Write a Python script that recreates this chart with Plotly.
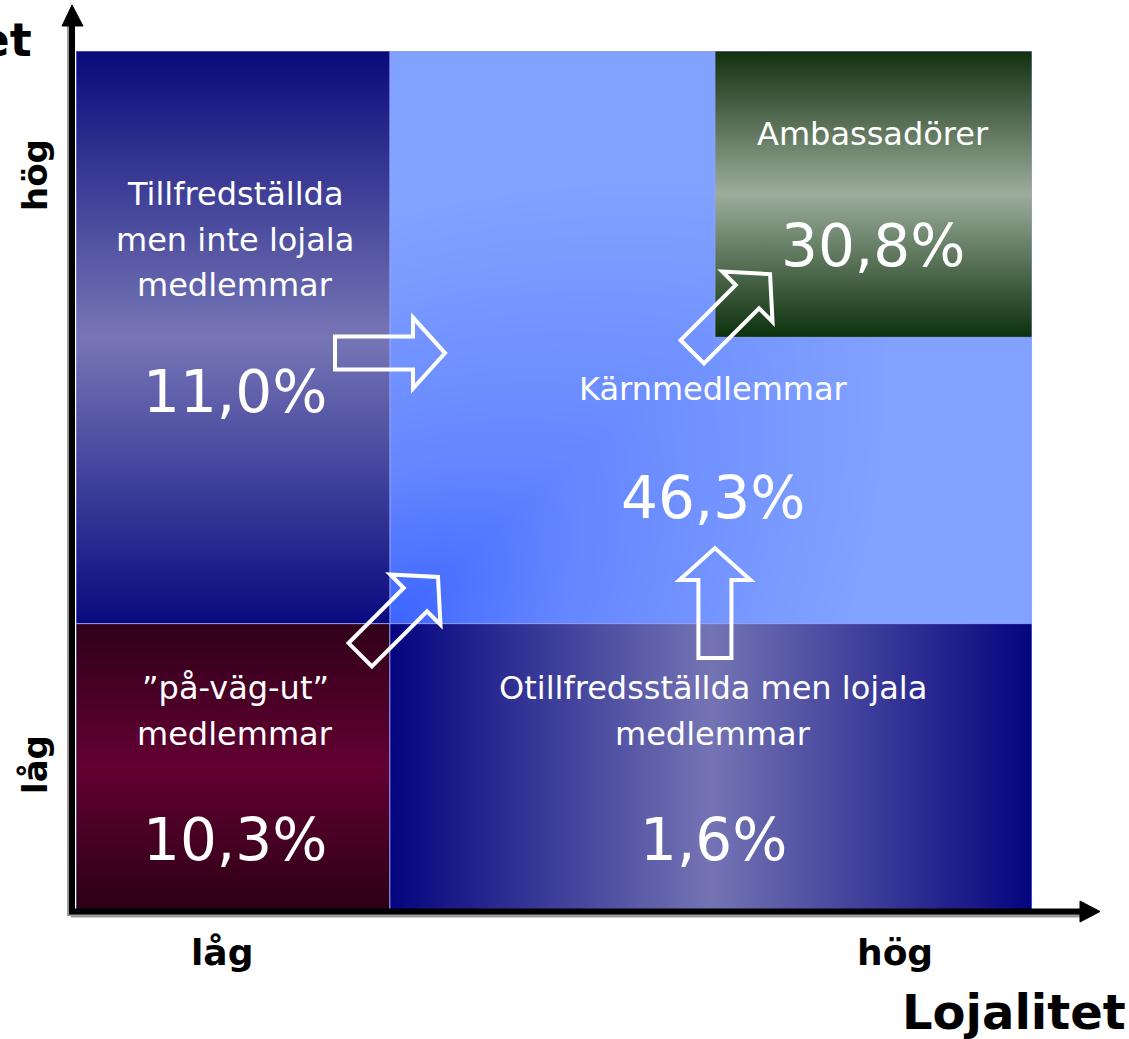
import numpy as np
import plotly.graph_objects as go

# ---------------- data ----------------
segments = [
    "Tillfredställda men inte lojala medlemmar",
    "Ambassadörer",
    "Kärnmedlemmar",
    "”på-väg-ut” medlemmar",
    "Otillfredsställda men lojala medlemmar",
]
shares = [11.0, 30.8, 46.3, 10.3, 1.6]
label_lines = [
    ["Tillfredställda", "men inte lojala", "medlemmar"],
    ["Ambassadörer"],
    ["Kärnmedlemmar"],
    ["”på-väg-ut”", "medlemmar"],
    ["Otillfredsställda men lojala", "medlemmar"],
]
x_title = "Lojalitet"
y_title = "Nöjdhet"
level_ticks = ["låg", "hög"]

# ---------------- layout helpers ----------------
W, H = 1129, 1039
L_PX, R_PX, T_PX, B_PX = 76, 1032, 51, 910
SX = (R_PX - L_PX) / 3.0
SY = (B_PX - T_PX) / 3.0

def px_gx(px):
    return (px - L_PX) / SX

def px_gy(py):
    return (B_PX - py) / SY

def gx_px(u):
    return L_PX + u * SX

def gy_px(v):
    return B_PX - v * SY

def pap_x(px):
    return (px - L_PX) / (R_PX - L_PX)

def pap_y(py):
    return (B_PX - py) / (B_PX - T_PX)

# region splits (grid units)
XS = [0, 0.985, 2.005, 3]
YS = [0, 1.0, 2.0, 3]

# text placement (grid units)
label_x = [0.5, 2.5, 2.0, 0.5, 2.0]
label_y = [2.50, 2.71, 1.82, 0.775, 0.775]
pct_y = [1.81, 2.32, 1.44, 0.245, 0.245]
LINE_STEP = 0.159

EDGE = "rgba(150,165,255,0.85)"

fig = go.Figure()

def rect(x0, x1, y0, y1, orient, stops):
    start, stop = (y0, y1) if orient == "vertical" else (x0, x1)
    fig.add_trace(go.Scatter(
        x=[x0, x1, x1, x0, x0], y=[y0, y0, y1, y1, y0],
        mode="lines", fill="toself",
        line=dict(width=1, color=EDGE),
        fillgradient=dict(type=orient, colorscale=stops, start=start, stop=stop),
        hoverinfo="skip", showlegend=False,
    ))

# central (core) region: gradient darkest at the lower-left corner
n = 120
cx = XS[1] + (np.arange(n) + 0.5) * (XS[3] - XS[1]) / n
cy = YS[1] + (np.arange(n) + 0.5) * (YS[3] - YS[1]) / n
U, V = np.meshgrid((cx - XS[1]) / (XS[3] - XS[1]), (cy - YS[1]) / (YS[3] - YS[1]))
T = np.clip(0.95 * np.sqrt(U ** 2 + V ** 2) + 0.45 * np.abs(U - V), 0, 1) ** 0.8
fig.add_trace(go.Heatmap(
    x=cx, y=cy, z=T, zmin=0, zmax=1, zsmooth="best", showscale=False,
    colorscale=[[0, "#3a62ff"], [0.45, "#6486ff"], [1, "#82a2ff"]],
    hoverinfo="skip",
))
fig.add_trace(go.Scatter(x=[XS[1], XS[3], XS[3], XS[1], XS[1]], y=[YS[1], YS[1], YS[3], YS[3], YS[1]],
                         mode="lines", line=dict(width=1, color=EDGE), hoverinfo="skip", showlegend=False))

# other regions
rect(XS[0], XS[1], YS[1], YS[3], "vertical", [[0, "#0a0a80"], [0.5, "#7676b6"], [1, "#0a0a7a"]])
rect(XS[0], XS[1], YS[0], YS[1], "vertical", [[0, "#2c0014"], [0.5, "#620032"], [1, "#300018"]])
rect(XS[1], XS[3], YS[0], YS[1], "horizontal", [[0, "#04047f"], [0.5, "#7474b4"], [1, "#04047f"]])
rect(XS[2], XS[3], YS[2], YS[3], "vertical", [[0, "#0c300c"], [0.5, "#9cad9b"], [1, "#12300f"]])

# ---------------- block arrows ----------------
# (tip_x, tip_y) in grid units, direction in degrees
arrow_tips = [(1.158, 1.945, 0), (1.136, 1.163, 45), (2.005, 1.264, 90), (2.178, 2.221, 45)]
AL, WB, WH, LH = 110, 16.5, 35.5, 32

local = [(-AL, -WB), (-LH, -WB), (-LH, -WH), (0, 0), (-LH, WH), (-LH, WB), (-AL, WB)]
for tu, tv, ang in arrow_tips:
    a = np.deg2rad(ang)
    tx, ty = gx_px(tu), gy_px(tv)
    pts = []
    for lx, ly in local:
        px = tx + lx * np.cos(a) - ly * np.sin(a)
        py = ty - (lx * np.sin(a) + ly * np.cos(a))
        pts.append((px_gx(px), px_gy(py)))
    path = "M " + " L ".join(f"{x:.4f},{y:.4f}" for x, y in pts) + " Z"
    fig.add_shape(type="path", path=path, xref="x", yref="y",
                  line=dict(color="white", width=4), fillcolor="rgba(0,0,0,0)", layer="above")

# ---------------- axes with arrow heads ----------------
AX_X, AX_Y = 72, 911.5
# soft shadow
fig.add_shape(type="line", xref="paper", yref="paper",
              x0=pap_x(AX_X - 2), x1=pap_x(AX_X - 2), y0=pap_y(916), y1=pap_y(26),
              line=dict(color="#9a9a9a", width=6), layer="above")
fig.add_shape(type="line", xref="paper", yref="paper",
              x0=pap_x(71), x1=pap_x(1080), y0=pap_y(AX_Y + 3), y1=pap_y(AX_Y + 3),
              line=dict(color="#9a9a9a", width=6), layer="above")
fig.add_shape(type="line", xref="paper", yref="paper",
              x0=pap_x(AX_X), x1=pap_x(AX_X), y0=pap_y(914), y1=pap_y(24),
              line=dict(color="black", width=6), layer="above")
fig.add_shape(type="path", xref="paper", yref="paper",
              path=f"M {pap_x(AX_X)},{pap_y(5)} L {pap_x(62)},{pap_y(26)} L {pap_x(83)},{pap_y(26)} Z",
              fillcolor="black", line=dict(color="black", width=1), layer="above")
fig.add_shape(type="line", xref="paper", yref="paper",
              x0=pap_x(69), x1=pap_x(1082), y0=pap_y(AX_Y), y1=pap_y(AX_Y),
              line=dict(color="black", width=6), layer="above")
fig.add_shape(type="path", xref="paper", yref="paper",
              path=f"M {pap_x(1100)},{pap_y(AX_Y)} L {pap_x(1080)},{pap_y(901)} L {pap_x(1080)},{pap_y(922)} Z",
              fillcolor="black", line=dict(color="black", width=1), layer="above")

# ---------------- texts ----------------
FONT = "DejaVu Sans, Verdana, sans-serif"
for i, seg in enumerate(segments):
    for j, line in enumerate(label_lines[i]):
        fig.add_annotation(x=label_x[i], y=label_y[i] - j * LINE_STEP, xref="x", yref="y",
                           text=line, showarrow=False, xanchor="center", yanchor="middle",
                           font=dict(family=FONT, size=32, color="white"))
    fig.add_annotation(x=label_x[i], y=pct_y[i], xref="x", yref="y",
                       text=f"{shares[i]:.1f}".replace(".", ",") + "%", showarrow=False,
                       xanchor="center", yanchor="middle",
                       font=dict(family=FONT, size=58, color="white"))

BOLD = dict(family=FONT, size=36, color="black", weight="bold")
# x ticks
fig.add_annotation(x=pap_x(222), y=pap_y(952), xref="paper", yref="paper", text=level_ticks[0],
                   showarrow=False, font=BOLD, xanchor="center", yanchor="middle")
fig.add_annotation(x=pap_x(895), y=pap_y(952), xref="paper", yref="paper", text=level_ticks[1],
                   showarrow=False, font=BOLD, xanchor="center", yanchor="middle")
# y ticks (rotated)
fig.add_annotation(x=pap_x(35), y=pap_y(175), xref="paper", yref="paper", text=level_ticks[1],
                   showarrow=False, font=dict(BOLD, size=34), textangle=-90,
                   xanchor="center", yanchor="middle")
fig.add_annotation(x=pap_x(35), y=pap_y(765), xref="paper", yref="paper", text=level_ticks[0],
                   showarrow=False, font=dict(BOLD, size=34), textangle=-90,
                   xanchor="center", yanchor="middle")
# axis titles (y title is partly outside the page, as in the original)
fig.add_annotation(x=pap_x(1014), y=pap_y(1012), xref="paper", yref="paper", text=x_title,
                   showarrow=False, font=dict(BOLD, size=48), xanchor="center", yanchor="middle")
fig.add_annotation(x=pap_x(34), y=pap_y(40), xref="paper", yref="paper", text=y_title,
                   showarrow=False, font=dict(BOLD, size=46), xanchor="right", yanchor="middle")

fig.update_layout(
    width=W, height=H,
    margin=dict(l=L_PX, r=W - R_PX, t=T_PX, b=H - B_PX, pad=0),
    paper_bgcolor="white", plot_bgcolor="white",
    xaxis=dict(range=[0, 3], visible=False, fixedrange=True),
    yaxis=dict(range=[0, 3], visible=False, fixedrange=True),
    showlegend=False,
)

fig.write_html("out.html", config={"displayModeBar": False},
               post_script="document.body.style.margin='0';")
